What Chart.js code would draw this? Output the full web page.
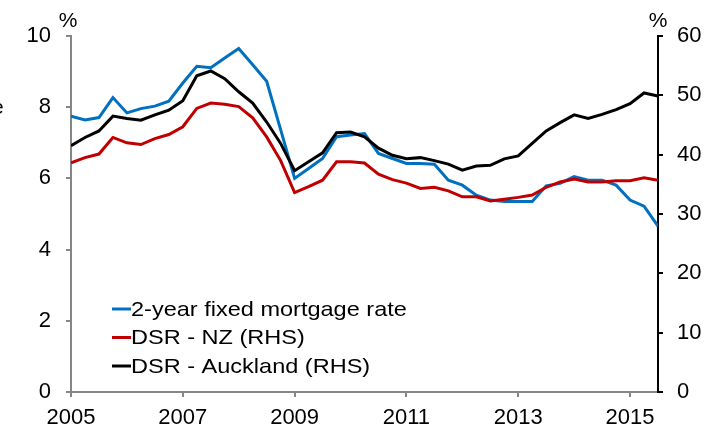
<!DOCTYPE html>
<html>
<head>
<meta charset="utf-8">
<script src="https://cdn.jsdelivr.net/npm/chart.js@4.4.1/dist/chart.umd.min.js"></script>
<style>
    body { margin: 0; background: #ffffff; }
    #wrap { width: 722px; height: 427px; }
</style>
</head>
<body>
<div id="wrap"><canvas id="dsrChart" width="722" height="427"></canvas></div>
<script>
// Quarterly, 2005Q1 .. 2015Q3
const startYear = 2005;
const quarters = [];
for (let i = 0; i < 43; i++) quarters.push(startYear + i / 4);

// 2-year fixed mortgage rate, % (LHS)
const mortgageRate = [
    7.75, 7.64, 7.71, 8.27, 7.84, 7.96, 8.03, 8.17,
    8.68, 9.15, 9.11, 9.38, 9.65, 9.19, 8.73, 7.37,
    6.00, 6.28, 6.56, 7.17, 7.22, 7.26, 6.70, 6.56,
    6.42, 6.42, 6.40, 5.95, 5.81, 5.53, 5.39, 5.35,
    5.35, 5.35, 5.79, 5.86, 6.05, 5.95, 5.95, 5.81,
    5.39, 5.22, 4.66
];

// Debt servicing ratio, NZ, % (RHS)
const dsrNZ = [
    38.6, 39.5, 40.1, 42.9, 42.0, 41.7, 42.7, 43.4,
    44.7, 47.8, 48.7, 48.5, 48.1, 46.2, 43.0, 39.0,
    33.6, 34.6, 35.7, 38.8, 38.8, 38.6, 36.7, 35.8,
    35.2, 34.3, 34.5, 33.9, 32.9, 32.9, 32.2, 32.5,
    32.8, 33.2, 34.5, 35.4, 35.9, 35.4, 35.4, 35.6,
    35.6, 36.1, 35.7
];

// Debt servicing ratio, Auckland, % (RHS)
const dsrAuckland = [
    41.5, 42.9, 44.0, 46.5, 46.1, 45.8, 46.7, 47.5,
    49.1, 53.3, 54.1, 52.8, 50.6, 48.7, 45.5, 41.9,
    37.3, 38.8, 40.3, 43.7, 43.8, 43.0, 41.1, 39.9,
    39.3, 39.5, 39.0, 38.4, 37.4, 38.1, 38.2, 39.3,
    39.8, 41.9, 44.0, 45.4, 46.7, 46.1, 46.8, 47.6,
    48.6, 50.4, 49.9
];

const xTicks = [2005, 2007, 2009, 2011, 2013, 2015];
const seriesNames = ['2-year fixed mortgage rate', 'DSR - NZ (RHS)', 'DSR - Auckland (RHS)'];

const FONT = 'Liberation Sans, Arial, sans-serif';
const toPoints = (vals) => vals.map((v, i) => ({ x: quarters[i], y: v }));

// percent signs above both axes, legend in the lower left, clipped label at left edge
const annotations = {
    id: 'annotations',
    afterDraw(chart) {
        const ctx = chart.ctx;
        const area = chart.chartArea;
        ctx.save();
        ctx.fillStyle = '#000000';
        ctx.font = '21px ' + FONT;
        ctx.textAlign = 'center';
        ctx.textBaseline = 'alphabetic';
        ctx.fillText('%', area.left - 3, 27);
        ctx.fillText('%', area.right, 27);

        ctx.textAlign = 'left';
        ctx.fillText('e', -8, 114);

        ctx.textBaseline = 'middle';
        chart.data.datasets.forEach((ds, i) => {
            const y = 309 + i * 28.5;
            ctx.strokeStyle = ds.borderColor;
            ctx.lineWidth = 3;
            ctx.beginPath();
            ctx.moveTo(112, y);
            ctx.lineTo(131, y);
            ctx.stroke();
            // legend text in the source is drawn a little wider than Arial
            ctx.save();
            ctx.translate(131, y + 1);
            ctx.scale(1.12, 1);
            ctx.fillText(ds.label, 0, 0);
            ctx.restore();
        });
        ctx.restore();
    }
};

new Chart(document.getElementById('dsrChart').getContext('2d'), {
    type: 'line',
    data: {
        datasets: [{
            label: seriesNames[0],
            data: toPoints(mortgageRate),
            borderColor: '#0070C0',
            yAxisID: 'y',
            order: 3
        }, {
            label: seriesNames[1],
            data: toPoints(dsrNZ),
            borderColor: '#C00000',
            yAxisID: 'y1',
            order: 2
        }, {
            label: seriesNames[2],
            data: toPoints(dsrAuckland),
            borderColor: '#000000',
            yAxisID: 'y1',
            order: 1
        }]
    },
    options: {
        responsive: false,
        animation: false,
        devicePixelRatio: 1,
        layout: { padding: { top: 36, left: 0, right: 0, bottom: 0 } },
        elements: {
            line: { borderWidth: 3, tension: 0, fill: false },
            point: { radius: 0 }
        },
        plugins: {
            legend: { display: false },
            tooltip: { enabled: false }
        },
        scales: {
            x: {
                type: 'linear',
                min: 2005,
                max: 2015.5,
                afterBuildTicks: (scale) => { scale.ticks = xTicks.map(v => ({ value: v })); },
                afterFit: (scale) => { scale.height = 35; },
                border: { color: '#868686', width: 2 },
                grid: { drawOnChartArea: false, tickLength: 5, color: '#868686', lineWidth: 2 },
                ticks: {
                    color: '#000000',
                    font: { family: FONT, size: 22 },
                    padding: 8,
                    maxRotation: 0,
                    callback: (v) => String(v)
                }
            },
            y: {
                position: 'left',
                min: 0,
                max: 10,
                afterFit: (scale) => { scale.width = 71; },
                border: { color: '#868686', width: 2 },
                grid: { drawOnChartArea: false, tickLength: 5, color: '#868686', lineWidth: 2 },
                ticks: {
                    stepSize: 2,
                    color: '#000000',
                    font: { family: FONT, size: 22 },
                    padding: 15
                }
            },
            y1: {
                position: 'right',
                min: 0,
                max: 60,
                afterFit: (scale) => { scale.width = 64; },
                border: { color: '#000000', width: 2 },
                grid: { drawOnChartArea: false, tickLength: 5, color: '#000000', lineWidth: 2 },
                ticks: {
                    stepSize: 10,
                    color: '#000000',
                    font: { family: FONT, size: 22 },
                    padding: 14
                }
            }
        }
    },
    plugins: [annotations]
});
</script>
</body>
</html>
